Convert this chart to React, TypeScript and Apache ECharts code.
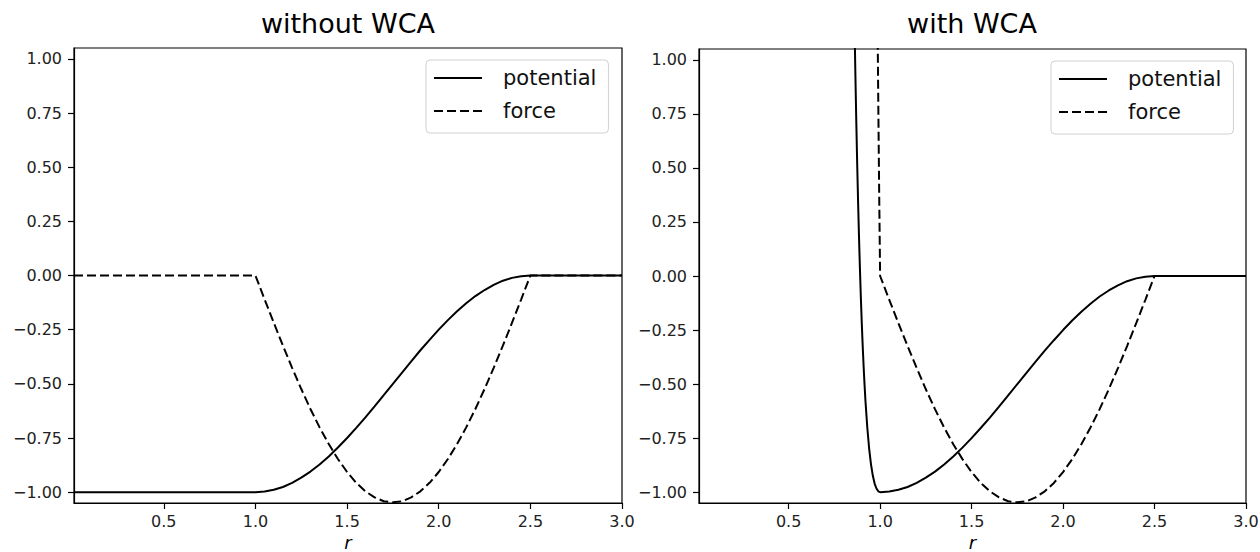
import React, { useEffect, useRef } from "react";
import * as echarts from "echarts";

// ---- data ----
const titles = ["without WCA", "with WCA"];
const seriesNames = ["potential", "force"];
const xTicks = [0.5, 1.0, 1.5, 2.0, 2.5, 3.0];
const yTicks = [-1.0, -0.75, -0.5, -0.25, 0.0, 0.25, 0.5, 0.75, 1.0];

// attractive cosine part (shared by both panels), r from 1.0 to 2.5
const rCos = [1.0, 1.05, 1.1, 1.15, 1.2, 1.25, 1.3, 1.35, 1.4, 1.45, 1.5, 1.55, 1.6, 1.65, 1.7, 1.75, 1.8, 1.85, 1.9, 1.95, 2.0, 2.05, 2.1, 2.15, 2.2, 2.25, 2.3, 2.35, 2.4, 2.45, 2.5];
const potCos = [-1.0, -0.997, -0.989, -0.976, -0.957, -0.933, -0.905, -0.872, -0.835, -0.794, -0.75, -0.703, -0.655, -0.604, -0.552, -0.5, -0.448, -0.396, -0.345, -0.297, -0.25, -0.206, -0.165, -0.128, -0.095, -0.067, -0.043, -0.024, -0.011, -0.003, 0.0];
const forceCos = [0.0, -0.11, -0.218, -0.324, -0.426, -0.524, -0.616, -0.701, -0.778, -0.847, -0.907, -0.957, -0.996, -1.024, -1.042, -1.047, -1.042, -1.024, -0.996, -0.957, -0.907, -0.847, -0.778, -0.701, -0.616, -0.524, -0.426, -0.324, -0.218, -0.11, 0.0];

// flat parts
const rFlatInner = [0.01, 1.0];
const potFlatInner = [-1.0, -1.0];
const forceFlatInner = [0.0, 0.0];
const rTail = [2.5, 3.0];
const tailVals = [0.0, 0.0];

// WCA repulsive part (r < 1)
const rWcaPot = [0.85, 0.86, 0.865, 0.87, 0.875, 0.88, 0.885, 0.89, 0.895, 0.9, 0.905, 0.91, 0.915, 0.92, 0.93, 0.94, 0.95, 0.96, 0.97, 0.98, 0.99, 1.0];
const potWca = [1.727, 1.166, 0.925, 0.706, 0.508, 0.33, 0.169, 0.024, -0.106, -0.223, -0.327, -0.421, -0.504, -0.579, -0.702, -0.798, -0.87, -0.923, -0.96, -0.983, -0.996, -1.0];
const rWcaForce = [0.975, 0.98, 0.985, 0.99, 0.995, 1.0];
const forceWca = [2.351, 1.782, 1.266, 0.801, 0.379, 0.0];

const zip = (xs: number[], ys: number[]) => xs.map((x, i) => [x, ys[i]]);

const potA = [...zip(rFlatInner, potFlatInner), ...zip(rCos, potCos), ...zip(rTail, tailVals)];
const forceA = [...zip(rFlatInner, forceFlatInner), ...zip(rCos, forceCos), ...zip(rTail, tailVals)];
const potB = [...zip(rWcaPot, potWca), ...zip(rCos, potCos), ...zip(rTail, tailVals)];
const forceB = [...zip(rWcaForce, forceWca), ...zip(rCos, forceCos), ...zip(rTail, tailVals)];

const FONT = "DejaVu Sans";

export default function App() {
  const ref = useRef<HTMLDivElement>(null);
  useEffect(() => {
    if (!ref.current) return;
    const chart = echarts.init(ref.current, null, { renderer: "svg" });
    const grids = [
      { left: 74, top: 48, width: 548, height: 455 },
      { left: 699, top: 49, width: 547, height: 454 },
    ];
    const fmtY = (v: number) => (v < 0 ? "\u2212" : "") + Math.abs(v).toFixed(2);
    const xAxes = grids.map((_, i) => ({
      type: "value",
      gridIndex: i,
      min: 0.01,
      max: 3.0,
      name: "r",
      nameLocation: "middle",
      nameGap: 28,
      nameTextStyle: { fontFamily: FONT, fontStyle: "italic", fontSize: 18, color: "#000", lineHeight: 18 },
      axisLine: { show: true, onZero: false, lineStyle: { color: "#000", width: 1.2 } },
      axisTick: { show: true, length: 6, customValues: xTicks, lineStyle: { color: "#000", width: 1.2 } },
      axisLabel: {
        customValues: xTicks,
        formatter: (v: number) => v.toFixed(1),
        fontFamily: FONT,
        fontSize: 16,
        color: "#222",
        margin: 10,
      },
      splitLine: { show: false },
    }));
    const yAxes = grids.map((_, i) => ({
      type: "value",
      gridIndex: i,
      min: -1.05,
      max: 1.05,
      axisLine: { show: true, onZero: false, lineStyle: { color: "#000", width: 1.2 } },
      axisTick: { show: true, length: 6, customValues: yTicks, lineStyle: { color: "#000", width: 1.2 } },
      axisLabel: {
        customValues: yTicks,
        formatter: fmtY,
        fontFamily: FONT,
        fontSize: 16,
        color: "#222",
        margin: 12,
      },
      splitLine: { show: false },
    }));
    const lineBase = { type: "line", showSymbol: false, symbol: "none", silent: true, clip: true };
    const solid = { color: "#000", width: 2 };
    const dashed = { color: "#000", width: 2, type: [9, 4] };
    const series = [
      { ...lineBase, name: seriesNames[0], xAxisIndex: 0, yAxisIndex: 0, data: potA, lineStyle: solid, itemStyle: { color: "#000" } },
      { ...lineBase, name: seriesNames[1], xAxisIndex: 0, yAxisIndex: 0, data: forceA, lineStyle: dashed, itemStyle: { color: "#000" } },
      { ...lineBase, name: seriesNames[0], xAxisIndex: 1, yAxisIndex: 1, data: potB, lineStyle: solid, itemStyle: { color: "#000" } },
      { ...lineBase, name: seriesNames[1], xAxisIndex: 1, yAxisIndex: 1, data: forceB, lineStyle: dashed, itemStyle: { color: "#000" } },
    ];
    const legendBase = {
      orient: "vertical",
      data: seriesNames,
      itemWidth: 48,
      itemHeight: 14,
      itemGap: 11,
      selectedMode: false,
      padding: [7, 12, 11, 7],
      borderColor: "#d0d0d0",
      borderWidth: 1,
      borderRadius: 4,
      backgroundColor: "rgba(255,255,255,0.8)",
      itemStyle: { opacity: 0 },
      textStyle: { fontFamily: FONT, fontSize: 21, color: "#111", lineHeight: 22, padding: [0, 0, 0, 16] },
      lineStyle: { type: "inherit", width: 2 },
    };
    chart.setOption({
      animation: false,
      backgroundColor: "#fff",
      title: [
        { text: titles[0], left: 348, top: 10, textAlign: "center", padding: 0, textStyle: { fontFamily: FONT, fontSize: 27, fontWeight: "normal", color: "#000" } },
        { text: titles[1], left: 972, top: 10, textAlign: "center", padding: 0, textStyle: { fontFamily: FONT, fontSize: 27, fontWeight: "normal", color: "#000" } },
      ],
      legend: [
        { ...legendBase, left: 426, top: 60 },
        { ...legendBase, left: 1051, top: 61 },
      ],
      grid: grids.map((g) => ({
        ...g,
        show: true,
        borderColor: "#000",
        borderWidth: 1.2,
        backgroundColor: "transparent",
        containLabel: false,
        outerBoundsMode: "none",
      })),
      xAxis: xAxes,
      yAxis: yAxes,
      series,
    });
    return () => chart.dispose();
  }, []);
  return <div ref={ref} style={{ position: "fixed", left: 0, top: 0, width: 1260, height: 552 }} />;
}
